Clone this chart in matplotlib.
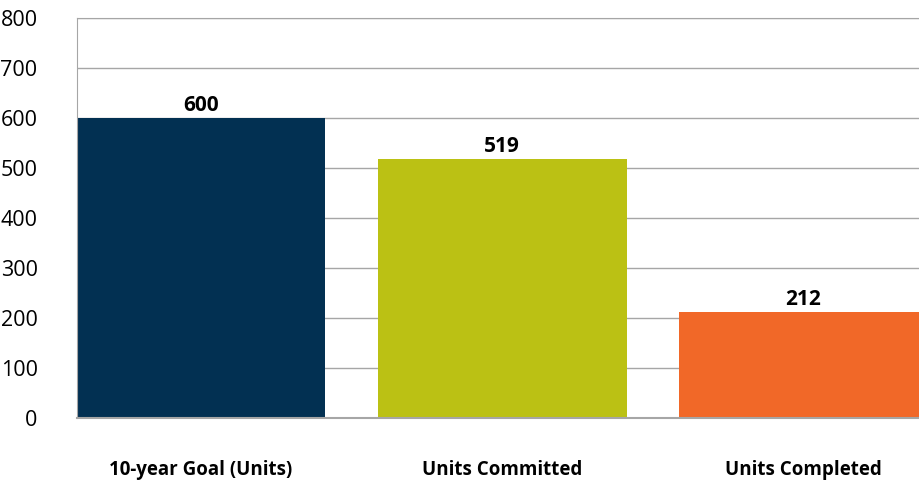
import matplotlib.pyplot as plt

plt.rcParams['font.family'] = ['Open Sans', 'DejaVu Sans']

categories = ['10-year Goal (Units)', 'Units Committed', 'Units Completed']
values = [600, 519, 212]
colors = ['#023052', '#BBC114', '#F16828']

fig = plt.figure(figsize=(9.19, 4.87), dpi=100)
ax = fig.add_axes([76.5 / 919, 1 - 418 / 487, (919 - 76.5) / 919, 400 / 487])

x = range(len(categories))
bars = ax.bar(x, values, width=0.827, color=colors, zorder=2)

# value labels above bars
for b, v in zip(bars, values):
    ax.text(b.get_x() + b.get_width() / 2, v + 4, str(v),
            ha='center', va='bottom', fontsize=15, fontweight='bold', zorder=3)

ax.set_ylim(0, 800)
ax.set_xlim(-0.4135, 2.385)
ax.set_yticks(range(0, 801, 100))
ax.yaxis.grid(True, color='#A6A6A6', linewidth=1, zorder=0)
ax.set_xticks(list(x))
ax.set_xticklabels(categories, fontsize=13.5, fontweight='bold')
ax.tick_params(axis='x', length=0, pad=30)
ax.tick_params(axis='y', length=0, pad=28, labelsize=15.5)

for s in ['right']:
    ax.spines[s].set_visible(False)
for s in ['left', 'top', 'bottom']:
    ax.spines[s].set_color('#A6A6A6')
ax.spines['bottom'].set_linewidth(1.5)

fig.savefig('out.png', dpi=100)
